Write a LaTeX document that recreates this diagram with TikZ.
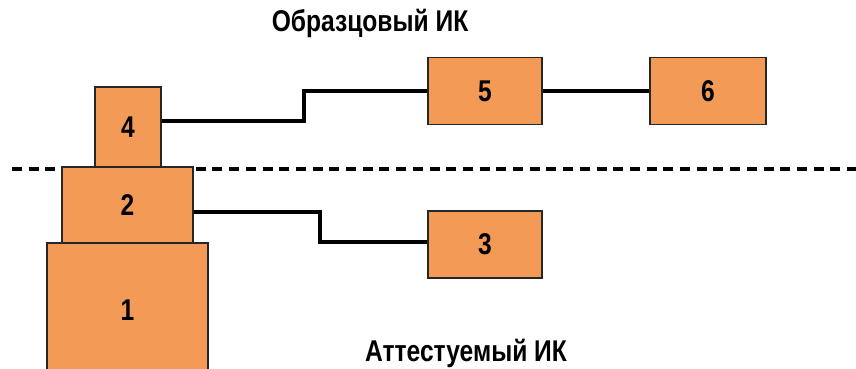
\documentclass[tikz,border=0pt]{standalone}
\usepackage{fontspec}
\setmainfont{Liberation Sans}[FakeStretch=0.82]
\definecolor{boxfill}{RGB}{243,154,86}
\begin{document}
\begin{tikzpicture}[x=1pt,y=-1pt,
  blk/.style={draw=black!85, line width=1.4pt, fill=boxfill, inner sep=0pt,
    font=\fontsize{30}{30}\selectfont\bfseries},
  wire/.style={line width=3.5pt, black},
  lbl/.style={font=\fontsize{30}{30}\selectfont\bfseries, inner sep=0pt}]
\clip (0,0) rectangle (856,369);
\fill[white] (0,0) rectangle (856,369);
% dashed separator
\coordinate (dl) at (12,169);
\coordinate (dr) at (856,169);
\draw[line width=3.2pt, dash pattern=on 10pt off 6.7pt] (dl) -- (dr);
% boxes
\node[blk, minimum width=161pt, minimum height=134pt] (b1) at (127.5,310) {1};
\node[blk, minimum width=131pt, minimum height=76pt] (b2) at (127.5,205) {2};
\node[blk, minimum width=66pt, minimum height=80pt] (b4) at (128,127) {4};
\node[blk, minimum width=114pt, minimum height=67pt] (b5) at (485,91) {5};
\node[blk, minimum width=116pt, minimum height=67pt] (b6) at (708,91) {6};
\node[blk, minimum width=114pt, minimum height=67pt] (b3) at (485,244.5) {3};
% connectors
\draw[wire] (b4.east |- 0,121) -| (304,91) -- (b5.west);
\draw[wire] (b5.east) -- (b6.west);
\draw[wire] (b2.east |- 0,212) -| (320,242) -- (b3.west |- 0,242);
% labels
\node[lbl] (t1) at (370,23) {Образцовый ИК};
\node[lbl] (t2) at (466,353) {Аттестуемый ИК};
\end{tikzpicture}
\end{document}
